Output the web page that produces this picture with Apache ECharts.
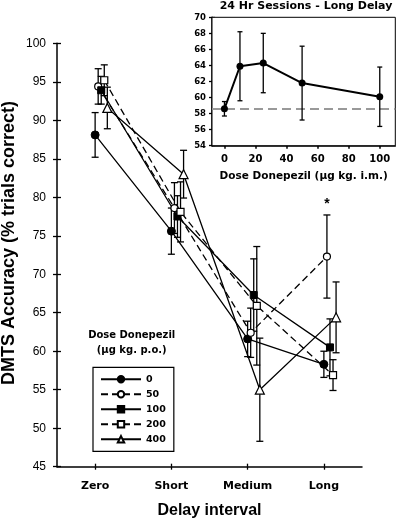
<!DOCTYPE html>
<html>
<head>
<meta charset="utf-8">
<script src="https://cdn.jsdelivr.net/npm/echarts@6/dist/echarts.min.js"></script>
<style>
html,body{margin:0;padding:0;background:#fff;}
#chart{width:397px;height:521px;}
</style>
</head>
<body>
<div id="chart"></div>
<script>
// ---- Main panel data ----
const categories = ['Zero', 'Short', 'Medium', 'Long'];
const doses = ['0', '50', '100', '200', '400'];
const mean0   = [88.1, 75.6, 61.6, 58.3];
const err0    = [2.9, 3.0, 2.3, 1.7];
const mean50  = [94.4, 78.6, 62.4, 72.3];
const err50   = [2.3, 3.3, 3.2, 5.4];
const mean100 = [93.9, 77.5, 67.3, 60.5];
const err100  = [1.8, 2.7, 4.7, 3.7];
const mean200 = [95.2, 78.1, 65.9, 56.9];
const err200  = [2.0, 3.9, 7.7, 2.0];
const mean400 = [91.6, 83.0, 55.0, 64.4];
const err400  = [2.7, 3.1, 6.7, 4.6];
const yTicks = [45, 50, 55, 60, 65, 70, 75, 80, 85, 90, 95, 100];

// ---- Inset data ----
const insetDose = [0, 10, 25, 50, 100];
const insetMean = [58.6, 63.9, 64.3, 61.8, 60.1];
const insetErr  = [0.9, 4.3, 3.7, 4.6, 3.7];
const insetBaseline = 58.65;
const insetXTicks = [0, 20, 40, 60, 80, 100];

const means = [mean0, mean50, mean100, mean200, mean400];
const errs = [err0, err50, err100, err200, err400];
const jitter = [0, 0.04, 0.08, 0.12, 0.16];
const symbols = ['circle', 'circle', 'rect', 'rect', 'triangle'];
const filled = [true, false, true, false, false];
const dashed = [false, true, false, true, false];
const symSizes = [8, 7, 7, 7, 9];

function errBar(cap) {
  return function (params, api) {
    const x = api.value(0), m = api.value(1), e = api.value(2);
    const t = api.coord([x, m + e]), b = api.coord([x, m - e]);
    const st = { stroke: '#000', lineWidth: 1.3 };
    return {
      type: 'group',
      children: [
        { type: 'line', shape: { x1: t[0], y1: t[1], x2: b[0], y2: b[1] }, style: st },
        { type: 'line', shape: { x1: t[0] - cap, y1: t[1], x2: t[0] + cap, y2: t[1] }, style: st },
        { type: 'line', shape: { x1: b[0] - cap, y1: b[1], x2: b[0] + cap, y2: b[1] }, style: st }
      ]
    };
  };
}

const series = [];
doses.forEach((d, k) => {
  series.push({
    type: 'custom', name: 'err' + d, xAxisIndex: 0, yAxisIndex: 0, z: 2,
    renderItem: errBar(3.5), silent: true,
    encode: { x: 0, y: 1 },
    data: categories.map((c, i) => [i + jitter[k], means[k][i], errs[k][i]])
  });
});
doses.forEach((d, k) => {
  const s = {
    type: 'line', name: d, xAxisIndex: 0, yAxisIndex: 0, z: 3,
    data: categories.map((c, i) => [i + jitter[k], means[k][i]]),
    symbol: symbols[k], symbolSize: symSizes[k], showAllSymbol: true,
    lineStyle: { color: '#000', width: 1.3, type: dashed[k] ? [7, 4] : 'solid' },
    itemStyle: filled[k] ? { color: '#000', borderColor: '#000', borderWidth: 1 } :
      { color: '#fff', borderColor: '#000', borderWidth: 1.2 },
    emphasis: { disabled: true },
    animation: false
  };
  if (d === '50') {
    s.markPoint = {
      symbol: 'circle', symbolSize: 0, silent: true,
      label: { show: true, formatter: '*', position: 'top', distance: 4, color: '#000',
        fontFamily: 'Liberation Sans', fontWeight: 'bold', fontSize: 14 },
      data: [{ coord: [3 + jitter[k], mean50[3] + err50[3]] }]
    };
  }
  series.push(s);
});

// inset series
series.push({
  type: 'custom', name: 'insetErr', xAxisIndex: 2, yAxisIndex: 2, z: 5,
  renderItem: errBar(2.5), silent: true, encode: { x: 0, y: 1 },
  data: insetDose.map((x, i) => [x, insetMean[i], insetErr[i]])
});
series.push({
  type: 'line', name: 'inset', xAxisIndex: 2, yAxisIndex: 2, z: 6,
  data: insetDose.map((x, i) => [x, insetMean[i]]),
  symbol: 'circle', symbolSize: 7, showAllSymbol: true,
  lineStyle: { color: '#000', width: 2 },
  itemStyle: { color: '#000' },
  emphasis: { disabled: true },
  markLine: {
    silent: true, symbol: 'none', label: { show: false },
    lineStyle: { color: '#999', width: 2, type: [9, 5] },
    data: [{ yAxis: insetBaseline }]
  },
  animation: false
});

const mainFont = 'Liberation Sans';
const vFont = 'DejaVu Sans';
const tickStyle = { color: '#000', width: 1.3 };

const option = {
  animation: false,
  backgroundColor: '#fff',
  grid: [
    { left: 57, top: 43.3, right: 35, bottom: 54.3, outerBoundsMode: 'none', containLabel: false },
    { left: 212, top: 17.3, right: 1.7, bottom: 375.3, outerBoundsMode: 'none', containLabel: false,
      show: true, backgroundColor: '#fff', borderColor: '#000', borderWidth: 1, z: 4 }
  ],
  legend: {
    data: doses, orient: 'vertical', left: 93, top: 367.3,
    itemWidth: 40, itemHeight: 8, itemGap: 5,
    padding: [7, 8, 7, 7], borderColor: '#000', borderWidth: 1.2,
    textStyle: { fontFamily: vFont, fontWeight: 'bold', fontSize: 9.5, lineHeight: 10, color: '#000' },
    selectedMode: false
  },
  graphic: [
    { type: 'text', x: 131.7, y: 335, style: { text: 'Dose Donepezil', align: 'center', verticalAlign: 'middle',
      font: 'bold 10px "DejaVu Sans"', fill: '#000' } },
    { type: 'text', x: 131.7, y: 350, style: { text: '(μg kg. p.o.)', align: 'center', verticalAlign: 'middle',
      font: 'bold 10px "DejaVu Sans"', fill: '#000' } },
    { type: 'text', x: 306, y: 6.5, z: 10, style: { text: '24 Hr Sessions - Long Delay', align: 'center', verticalAlign: 'middle',
      font: 'bold 11px "DejaVu Sans"', fill: '#000' } },
    { type: 'text', x: 9, y: 243, rotation: Math.PI / 2, style: { text: 'DMTS Accuracy (% trials correct)', align: 'center', verticalAlign: 'middle',
      font: 'bold 18px "Liberation Sans"', fill: '#000' } }
  ],
  xAxis: [
    { gridIndex: 0, type: 'value', min: -0.5, max: 3.5,
      name: 'Delay interval', nameLocation: 'middle', nameGap: 36,
      nameTextStyle: { fontFamily: mainFont, fontWeight: 'bold', fontSize: 16, color: '#000' },
      axisLine: { onZero: false, lineStyle: { color: '#000', width: 1.5 } },
      axisTick: { show: true, length: 3, customValues: [0, 1, 2, 3], lineStyle: tickStyle },
      axisLabel: { customValues: [0, 1, 2, 3], formatter: v => categories[Math.round(v)], margin: 14,
        fontFamily: vFont, fontWeight: 'bold', fontSize: 11, color: '#000' },
      splitLine: { show: false } },
    { gridIndex: 0, type: 'value', min: -0.5, max: 3.5, position: 'bottom',
      axisLine: { show: false, onZero: false },
      axisTick: { show: true, inside: true, length: 3, customValues: [0, 1, 2, 3], lineStyle: tickStyle },
      axisLabel: { show: false }, splitLine: { show: false } },
    { gridIndex: 1, type: 'value', min: -8, max: 110,
      name: 'Dose Donepezil (μg kg. i.m.)', nameLocation: 'middle', nameGap: 25,
      nameTextStyle: { fontFamily: vFont, fontWeight: 'bold', fontSize: 10.5, color: '#000' },
      axisLine: { onZero: false, lineStyle: { color: '#000', width: 1.5 } },
      axisTick: { show: true, length: 3, customValues: insetXTicks, lineStyle: { color: '#000', width: 1.5 } },
      axisLabel: { customValues: insetXTicks, margin: 9, fontFamily: vFont, fontWeight: 'bold', fontSize: 10, color: '#000' },
      splitLine: { show: false } },
    { gridIndex: 1, type: 'value', min: -8, max: 110, position: 'bottom',
      axisLine: { show: false, onZero: false },
      axisTick: { show: true, inside: true, length: 3, customValues: insetXTicks, lineStyle: { color: '#000', width: 1.5 } },
      axisLabel: { show: false }, splitLine: { show: false } }
  ],
  yAxis: [
    { gridIndex: 0, type: 'value', min: 45, max: 100, interval: 5,
      axisLine: { show: true, onZero: false, lineStyle: { color: '#000', width: 1.5 } },
      axisTick: { show: true, length: 4, lineStyle: tickStyle },
      axisLabel: { margin: 11, fontFamily: mainFont, fontSize: 12, color: '#000' },
      splitLine: { show: false } },
    { gridIndex: 0, type: 'value', min: 45, max: 100, interval: 5, position: 'left',
      axisLine: { show: false, onZero: false },
      axisTick: { show: true, inside: true, length: 4, lineStyle: tickStyle },
      axisLabel: { show: false }, splitLine: { show: false } },
    { gridIndex: 1, type: 'value', min: 54, max: 70, interval: 2,
      axisLine: { show: true, onZero: false, lineStyle: { color: '#000', width: 1.5 } },
      axisTick: { show: true, length: 3, lineStyle: tickStyle },
      axisLabel: { margin: 6, fontFamily: vFont, fontWeight: 'bold', fontSize: 8.5, color: '#000' },
      splitLine: { show: false } },
    { gridIndex: 1, type: 'value', min: 54, max: 70, interval: 2, position: 'left',
      axisLine: { show: false, onZero: false },
      axisTick: { show: true, inside: true, length: 3, lineStyle: tickStyle },
      axisLabel: { show: false }, splitLine: { show: false } }
  ],
  series: series
};

const chart = echarts.init(document.getElementById('chart'), null, { renderer: 'canvas' });
chart.setOption(option);
</script>
</body>
</html>
